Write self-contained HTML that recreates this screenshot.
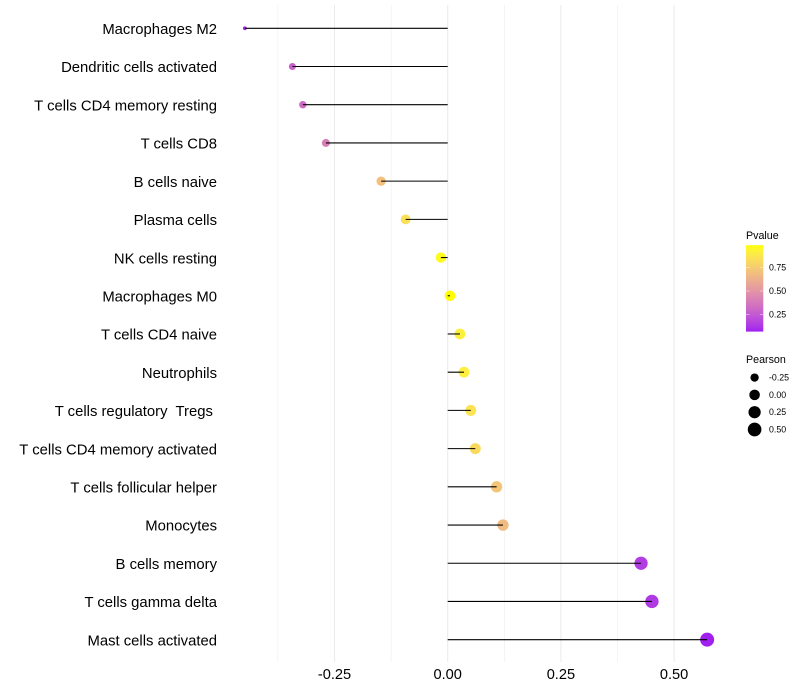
<!DOCTYPE html>
<html>
<head>
<meta charset="utf-8">
<title>Lollipop chart</title>
<style>
html,body{margin:0;padding:0;background:#fff;}
svg{display:block;font-family:"Liberation Sans",sans-serif;}
</style>
</head>
<body>
<svg id="chart" width="800" height="700" viewBox="0 0 800 700" xmlns="http://www.w3.org/2000/svg"></svg>
<script>
const categories = ["Macrophages M2","Dendritic cells activated","T cells CD4 memory resting","T cells CD8","B cells naive","Plasma cells","NK cells resting","Macrophages M0","T cells CD4 naive","Neutrophils","T cells regulatory  Tregs ","T cells CD4 memory activated","T cells follicular helper","Monocytes","B cells memory","T cells gamma delta","Mast cells activated"];
const pearson = [-0.448,-0.343,-0.32,-0.269,-0.147,-0.093,-0.015,0.005,0.027,0.036,0.051,0.061,0.108,0.122,0.427,0.451,0.573];
const pvalues = [0.07,0.27,0.32,0.4,0.7,0.84,0.97,0.99,0.92,0.91,0.86,0.82,0.72,0.68,0.14,0.13,0.06];
const xTicks = [-0.25,0,0.25,0.5];
const xTickLabels = ["-0.25","0.00","0.25","0.50"];
const xMinorTicks = [-0.375,-0.125,0.125,0.375];
const pvalueLegendTicks = [0.75,0.5,0.25];
const pvalueLegendLabels = ["0.75","0.50","0.25"];
const pearsonLegendValues = [-0.25,0,0.25,0.5];
const pearsonLegendLabels = ["-0.25","0.00","0.25","0.50"];

const svg = document.getElementById('chart');
const NS = 'http://www.w3.org/2000/svg';
function make(tag, attrs, text) {
  const el = document.createElementNS(NS, tag);
  for (const k in attrs) el.setAttribute(k, attrs[k]);
  if (text !== undefined) { el.textContent = text; el.setAttribute('xml:space', 'preserve'); el.style.whiteSpace = 'pre'; }
  svg.appendChild(el);
  return el;
}
const xScale = v => 447.7 + v * 452.8;
const yScale = i => 28.3 + i * 38.21;
const sizeMin = Math.min(...pearson), sizeMax = Math.max(...pearson);
const sizeScale = v => 1.9 + 5.1 * Math.sqrt(Math.max(0, Math.min(1, (v - sizeMin) / (sizeMax - sizeMin))));
const pLegendY = p => 337.6 - p * 93.2;

function rgb2lab(c) {
  const f = c.map(v => { v /= 255; return v > 0.04045 ? Math.pow((v + 0.055) / 1.055, 2.4) : v / 12.92; });
  const X = (0.4124 * f[0] + 0.3576 * f[1] + 0.1805 * f[2]) / 0.95047;
  const Y = 0.2126 * f[0] + 0.7152 * f[1] + 0.0722 * f[2];
  const Z = (0.0193 * f[0] + 0.1192 * f[1] + 0.9505 * f[2]) / 1.08883;
  const g = t => t > 0.008856 ? Math.cbrt(t) : 7.787 * t + 16 / 116;
  return [116 * g(Y) - 16, 500 * (g(X) - g(Y)), 200 * (g(Y) - g(Z))];
}
function lab2rgb(l) {
  const fy = (l[0] + 16) / 116, fx = l[1] / 500 + fy, fz = fy - l[2] / 200;
  const h = t => t * t * t > 0.008856 ? t * t * t : (t - 16 / 116) / 7.787;
  const X = h(fx) * 0.95047, Y = h(fy), Z = h(fz) * 1.08883;
  const lin = [3.2406 * X - 1.5372 * Y - 0.4986 * Z, -0.9689 * X + 1.8758 * Y + 0.0415 * Z, 0.0557 * X - 0.204 * Y + 1.057 * Z];
  return lin.map(v => { v = v > 0.0031308 ? 1.055 * Math.pow(v, 1 / 2.4) - 0.055 : 12.92 * v; return Math.round(Math.min(1, Math.max(0, v)) * 255); });
}
const labLow = rgb2lab([160, 32, 240]);
const labHigh = rgb2lab([255, 255, 0]);
const pMin = 0.06, pMax = 0.99;
function pColor(p) {
  const t = Math.min(1, Math.max(0, (p - pMin) / (pMax - pMin)));
  const c = lab2rgb(labLow.map((v, i) => v + (labHigh[i] - v) * t));
  return 'rgb(' + c.join(',') + ')';
}

const panelTop = 5, panelBottom = 662;

xMinorTicks.forEach(v => {
  const line = make('line', {x1: xScale(v), x2: xScale(v), y1: panelTop, y2: panelBottom, stroke: '#ebebeb', 'stroke-width': 0.55});
  
  
});
xTicks.forEach((v, i) => {
  const line = make('line', {x1: xScale(v), x2: xScale(v), y1: panelTop, y2: panelBottom, stroke: '#ebebeb', 'stroke-width': 1.07});
  
  
  const label = make('text', {x: xScale(v), y: 679, 'text-anchor': 'middle', 'font-size': 14.6, fill: '#000'}, xTickLabels[i]);
  
  
});

categories.forEach((name, i) => {
  const y = yScale(i);
  const label = make('text', {x: 217, y: y + 5.7, 'text-anchor': 'end', 'font-size': 14.85, fill: '#000'}, name);
  
  
  const dot = make('circle', {cx: xScale(pearson[i]), cy: y, r: sizeScale(pearson[i]), fill: pColor(pvalues[i])});
  
  
  const stem = make('line', {x1: xScale(0), x2: xScale(pearson[i]), y1: y, y2: y, stroke: '#000', 'stroke-width': 1.07});
  
  
});

const pTitle = make('text', {x: 746, y: 239, 'font-size': 10.7, fill: '#000'}, 'Pvalue');


const defs = make('defs', {});
const grad = document.createElementNS(NS, 'linearGradient');
grad.setAttribute('id', 'pgrad');
grad.setAttribute('x1', '0'); grad.setAttribute('x2', '0'); grad.setAttribute('y1', '1'); grad.setAttribute('y2', '0');
for (let k = 0; k <= 20; k++) {
  const s = document.createElementNS(NS, 'stop');
  s.setAttribute('offset', k / 20);
  s.setAttribute('stop-color', pColor(pMin + (pMax - pMin) * k / 20));
  grad.appendChild(s);
}
defs.appendChild(grad);
const bar = make('rect', {x: 746, y: 245.2, width: 17.3, height: 86.4, fill: 'url(#pgrad)'});


pvalueLegendTicks.forEach((p, i) => {
  const y = pLegendY(p);
  const t1 = make('line', {x1: 746, x2: 749.5, y1: y, y2: y, stroke: '#fff', 'stroke-width': 0.55, 'stroke-opacity': 0.8});
  
  
  const t2 = make('line', {x1: 759.8, x2: 763.3, y1: y, y2: y, stroke: '#fff', 'stroke-width': 0.55, 'stroke-opacity': 0.8});
  
  
  const lab = make('text', {x: 769, y: y + 3, 'font-size': 8.8, fill: '#000'}, pvalueLegendLabels[i]);
  
  
});

const sTitle = make('text', {x: 746, y: 363, 'font-size': 10.7, fill: '#000'}, 'Pearson');


pearsonLegendValues.forEach((v, i) => {
  const y = 377.6 + i * 17.3;
  const key = make('circle', {cx: 754.6, cy: y, r: sizeScale(v), fill: '#000'});
  
  
  const lab = make('text', {x: 769, y: y + 3, 'font-size': 8.8, fill: '#000'}, pearsonLegendLabels[i]);
  
  
});
</script>
</body>
</html>
